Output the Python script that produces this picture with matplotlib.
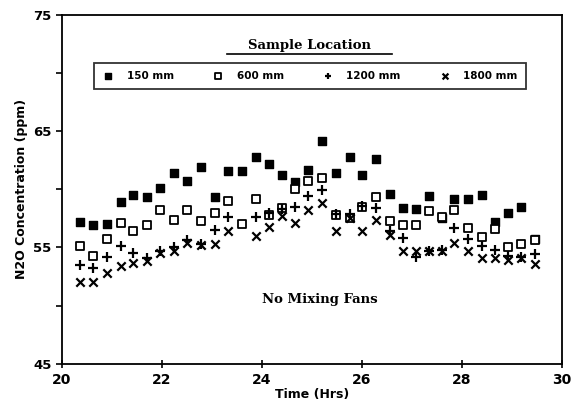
import numpy as np
import matplotlib.pyplot as plt
from matplotlib.lines import Line2D

# sample times (hrs)
times = [20.37, 20.63, 20.90, 21.18, 21.43, 21.70, 21.97, 22.25, 22.50, 22.79,
         23.06, 23.33, 23.60, 23.88, 24.15, 24.41, 24.67, 24.93, 25.20, 25.47,
         25.75, 26.00, 26.28, 26.55, 26.81, 27.07, 27.33, 27.59, 27.84, 28.11,
         28.39, 28.65, 28.91, 29.18, 29.45]

# N2O concentration (ppm) at each sample location
c150 = [57.2, 56.9, 57.0, 58.9, 59.5, 59.3, 60.1, 61.4, 60.7, 61.9,
        59.3, 61.6, 61.6, 62.8, 62.2, 61.2, 60.6, 61.7, 64.2, 61.4,
        62.8, 61.2, 62.6, 59.6, 58.4, 58.3, 59.4, 57.5, 59.2, 59.2,
        59.5, 57.2, 58.0, 58.5, 55.7]
c600 = [55.1, 54.3, 55.7, 57.1, 56.4, 56.9, 58.2, 57.4, 58.2, 57.3,
        58.0, 59.0, 57.0, 59.2, 57.8, 58.4, 60.0, 60.7, 61.0, 57.8,
        57.5, 58.5, 59.3, 57.3, 56.9, 56.9, 58.1, 57.6, 58.2, 56.7,
        55.9, 56.6, 55.0, 55.3, 55.6]
# no 1200/1800 mm reading visible at 23.60 h
times_b = times[:12] + times[13:]
c1200 = [53.5, 53.2, 54.2, 55.1, 54.5, 54.1, 54.7, 55.0, 55.6, 55.3,
         56.5, 57.6, 57.6, 58.0, 58.3, 58.5, 59.4, 59.9, 57.9, 57.9,
         58.6, 58.4, 56.4, 55.8, 54.2, 54.7, 54.8, 56.7, 55.7, 55.1,
         54.8, 54.3, 54.2, 54.4]
c1800 = [52.0, 52.0, 52.8, 53.4, 53.7, 53.8, 54.5, 54.7, 55.4, 55.2,
         55.3, 56.4, 56.0, 56.8, 57.7, 57.1, 58.2, 58.8, 56.4, 57.5,
         56.4, 57.4, 56.1, 54.7, 54.7, 54.7, 54.7, 55.4, 54.7, 54.1,
         54.1, 53.9, 54.1, 53.6]

labels = ['150 mm', '600 mm', '1200 mm', '1800 mm']

plt.rcParams['font.family'] = 'DejaVu Sans'
plt.rcParams['font.weight'] = 'bold'

fig = plt.figure(figsize=(5.73, 4.17), dpi=100)
ax = fig.add_axes([0.108, 0.128, 0.873, 0.836])

k = 'black'
ax.scatter(times, c150, marker='s', s=34, color=k, label=labels[0])
ax.scatter(times, c600, marker='s', s=34, facecolor='white', edgecolor=k,
           linewidth=1.3, label=labels[1])
ax.scatter(times_b, c1200, marker='+', s=42, color=k, linewidth=1.6, label=labels[2])
ax.scatter(times_b, c1800, marker='x', s=36, color=k, linewidth=1.6, label=labels[3])

ax.set_xlim(20, 30)
ax.set_ylim(45, 75)
ax.set_xticks(np.arange(20, 31, 2))
ax.set_yticks([45, 55, 65, 75])
ax.set_yticks([50, 60, 70], minor=True)
ax.tick_params(axis='y', which='both', direction='out', length=4, width=1.2, labelsize=9.5)
ax.tick_params(axis='x', direction='inout', length=6, width=1.2, labelsize=10)
for sp in ax.spines.values():
    sp.set_linewidth(1.3)

ax.set_xlabel('Time (Hrs)', fontsize=9, fontweight='bold', labelpad=1)
ax.set_ylabel('N2O Concentration (ppm)', fontsize=9, fontweight='bold', labelpad=4)

ax.text(0.516, 0.183, 'No Mixing Fans', transform=ax.transAxes, ha='center',
        va='center', fontsize=9.5, fontweight='bold', family='DejaVu Serif')

ax.text(0.496, 0.912, 'Sample Location', transform=ax.transAxes, ha='center',
        va='center', fontsize=9.5, fontweight='bold', family='DejaVu Serif')
ax.add_line(Line2D([0.33, 0.66], [0.887, 0.887], transform=ax.transAxes,
                   color=k, linewidth=1.2))

leg = ax.legend(loc='center', bbox_to_anchor=(0.496, 0.825), ncol=4,
                frameon=True, fancybox=False, edgecolor=k, handletextpad=1.2,
                columnspacing=3.6, borderpad=0.75, handlelength=1.2,
                fontsize=7.5, markerscale=0.7)
leg.get_frame().set_linewidth(1.3)
for t in leg.get_texts():
    t.set_fontweight('bold')

fig.savefig('out.png', dpi=100)
